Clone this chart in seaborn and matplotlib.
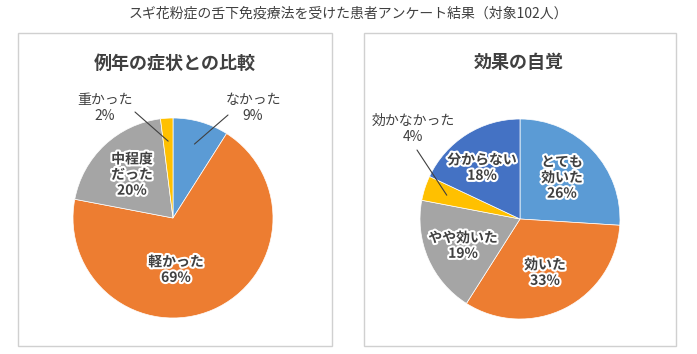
import numpy as np
import matplotlib
matplotlib.use('Agg')
from matplotlib import pyplot as plt
from matplotlib.patches import Rectangle
import matplotlib.patheffects as pe
import seaborn as sns

# Survey data
left_title = '例年の症状との比較'
left_labels = ['なかった', '軽かった', '中程度\nだった', '重かった']
left_values = [9, 69, 20, 2]

right_title = '効果の自覚'
right_labels = ['とても\n効いた', '効いた', 'やや効いた', '効かなかった', '分からない']
right_values = [26, 33, 19, 4, 18]

main_title = 'スギ花粉症の舌下免疫療法を受けた患者アンケート結果（対象102人）'

left_colors = ['#5B9BD5', '#ED7D31', '#A5A5A5', '#FFC000']
right_colors = ['#5B9BD5', '#ED7D31', '#A5A5A5', '#FFC000', '#4472C4']

# label placement in pie units: (x, y, inside, leader end or None)
left_layout = [
    (0.80, 1.10, False, (0.55, 1.03)),
    (0.03, -0.52, True, None),
    (-0.41, 0.43, True, None),
    (-0.68, 1.10, False, (-0.38, 1.06)),
]
right_layout = [
    (0.42, 0.41, True, None),
    (0.25, -0.54, True, None),
    (-0.57, -0.27, True, None),
    (-1.07, 0.90, False, (-1.03, 0.69)),
    (-0.38, 0.51, True, None),
]

W, H = 697, 354
TEXT = '#404040'


def px(x, y):
    return x / W, 1 - y / H


def draw_pie(fig, cx, cy, values, labels, colors, layout):
    size = 260
    lim = 1.3
    ax = fig.add_axes([(cx - size / 2) / W, (H - cy - size / 2) / H, size / W, size / H])
    wedges, _ = ax.pie(values, colors=colors, startangle=90, counterclock=False,
                       radius=1, wedgeprops=dict(edgecolor='white', linewidth=0.5))
    ax.set_xlim(-lim, lim)
    ax.set_ylim(-lim, lim)
    ax.axis('off')
    for w, lab, val, (tx, ty, inside, end) in zip(wedges, labels, values, layout):
        txt = f'{lab}\n{val}%'
        if inside:
            ax.text(tx, ty, txt, ha='center', va='center', fontsize=10, fontweight='bold',
                    color=TEXT, linespacing=1.15,
                    path_effects=[pe.withStroke(linewidth=3, foreground='white')])
        else:
            ax.text(tx, ty, txt, ha='center', va='center', fontsize=10, color=TEXT,
                    linespacing=1.15, clip_on=False)
            mid = np.deg2rad((w.theta1 + w.theta2) / 2)
            sx, sy = 0.77 * np.cos(mid), 0.77 * np.sin(mid)
            ax.plot([sx, end[0]], [sy, end[1]], color=TEXT, lw=0.8, clip_on=False)
    return ax


def main():
    sns.set_theme(style='white')
    plt.rcParams['font.family'] = ['Noto Sans CJK JP', 'DejaVu Sans']

    fig = plt.figure(figsize=(W / 100, H / 100), dpi=100)
    fig.patch.set_facecolor('white')

    fig.text(*px(348, 14), main_title, ha='center', va='center', fontsize=10, color=TEXT)

    # panel borders
    for x0, x1 in [(18, 332), (364, 676)]:
        fx0, fy1 = px(x0, 33)
        fx1, fy0 = px(x1, 346)
        fig.add_artist(Rectangle((fx0, fy0), fx1 - fx0, fy1 - fy0, transform=fig.transFigure,
                                 fill=False, edgecolor='#D0D0D0', linewidth=1))

    fig.text(*px(175, 63), left_title, ha='center', va='center', fontsize=13,
             fontweight='bold', color=TEXT)
    fig.text(*px(519, 63), right_title, ha='center', va='center', fontsize=13,
             fontweight='bold', color=TEXT)

    draw_pie(fig, 173, 218, left_values, left_labels, left_colors, left_layout)
    draw_pie(fig, 520, 219, right_values, right_labels, right_colors, right_layout)

    fig.savefig('out.png', dpi=100)


if __name__ == '__main__':
    main()
